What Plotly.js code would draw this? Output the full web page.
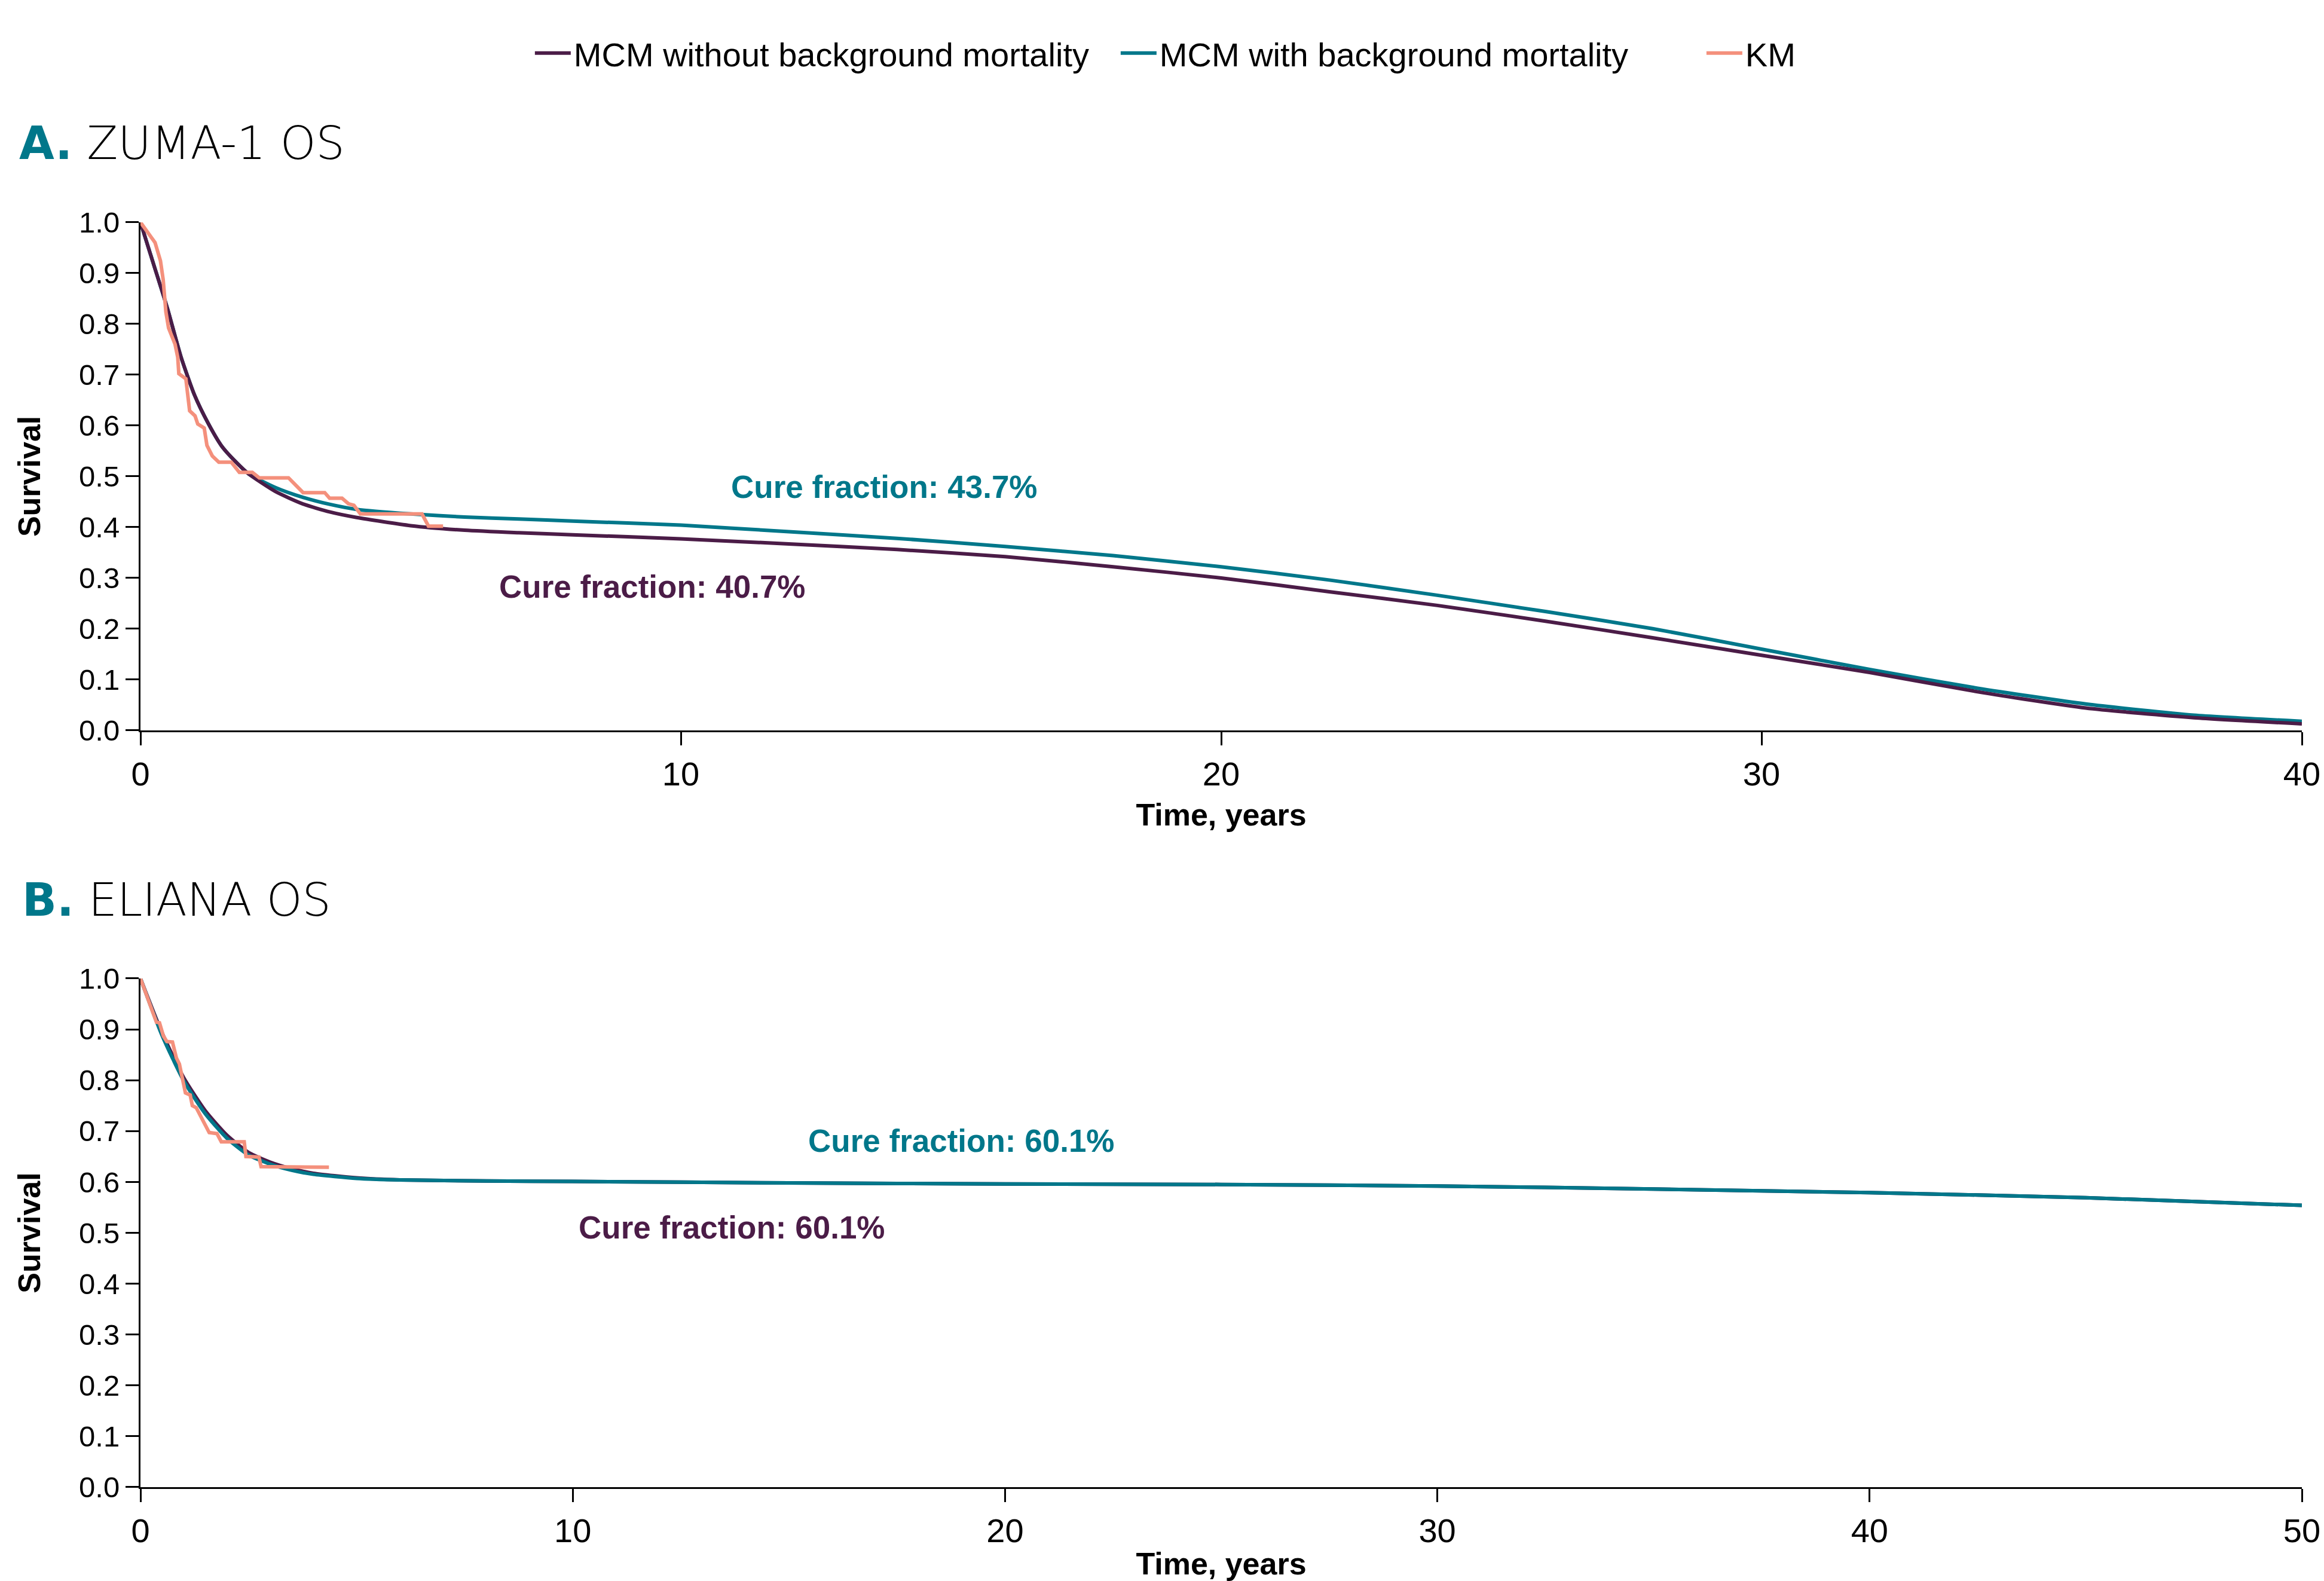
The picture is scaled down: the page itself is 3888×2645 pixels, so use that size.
<!DOCTYPE html>
<html>
<head>
<meta charset="utf-8">
<script src="https://cdn.plot.ly/plotly-3.0.1.min.js"></script>
<style>
  html, body { margin: 0; padding: 0; background: #ffffff; }
  #chart { width: 3888px; height: 2645px; }
</style>
</head>
<body>
<div id="chart"></div>
<script>
// ---------- Data ----------
// Panel A: ZUMA-1 OS
const zumaTime = [0, 0.25, 0.5, 0.75, 1, 1.25, 1.5, 1.75, 2, 2.5, 3, 3.5, 4, 5, 6, 7, 8, 10, 12, 14, 16, 18, 20, 22, 24, 26, 28, 30, 32, 34, 36, 38, 40];
const zumaNoBg = [1.0, 0.915, 0.83, 0.735, 0.66, 0.605, 0.56, 0.53, 0.505, 0.47, 0.446, 0.43, 0.419, 0.403, 0.394, 0.389, 0.385, 0.377, 0.367, 0.356, 0.342, 0.322, 0.300, 0.273, 0.246, 0.215, 0.182, 0.148, 0.114, 0.076, 0.044, 0.025, 0.013];
const zumaWithBg = [1.0, 0.915, 0.83, 0.735, 0.66, 0.605, 0.56, 0.53, 0.505, 0.478, 0.459, 0.445, 0.435, 0.426, 0.420, 0.416, 0.412, 0.404, 0.391, 0.378, 0.362, 0.344, 0.322, 0.296, 0.266, 0.234, 0.200, 0.160, 0.120, 0.083, 0.052, 0.030, 0.018];
const zumaKmTime = [0, 0.196, 0.27, 0.37, 0.42, 0.47, 0.52, 0.64, 0.69, 0.71, 0.84, 0.91, 1.01, 1.06, 1.18, 1.23, 1.33, 1.45, 1.68, 1.83, 2.07, 2.20, 2.74, 3.01, 3.41, 3.50, 3.73, 3.85, 3.95, 4.07, 5.21, 5.33, 5.60];
const zumaKm = [1.0, 0.969, 0.960, 0.924, 0.887, 0.824, 0.792, 0.760, 0.734, 0.702, 0.692, 0.629, 0.619, 0.603, 0.595, 0.561, 0.540, 0.528, 0.528, 0.508, 0.508, 0.497, 0.497, 0.468, 0.468, 0.457, 0.457, 0.446, 0.443, 0.426, 0.426, 0.402, 0.402];

// Panel B: ELIANA OS
const elianaTime = [0, 0.5, 1, 1.5, 2, 2.5, 3, 3.5, 4, 5, 6, 8, 10, 15, 20, 25, 30, 35, 40, 45, 50];
const elianaNoBg = [1.0, 0.893, 0.805, 0.740, 0.692, 0.658, 0.639, 0.626, 0.617, 0.608, 0.604, 0.602, 0.601, 0.598, 0.596, 0.595, 0.592, 0.586, 0.579, 0.569, 0.554];
const elianaWithBg = [1.0, 0.888, 0.799, 0.734, 0.686, 0.653, 0.635, 0.623, 0.615, 0.607, 0.604, 0.602, 0.601, 0.598, 0.596, 0.595, 0.592, 0.586, 0.579, 0.569, 0.554];
const elianaKmTime = [0, 0.37, 0.44, 0.53, 0.61, 0.74, 0.83, 0.90, 1.04, 1.15, 1.20, 1.29, 1.59, 1.77, 1.87, 2.40, 2.44, 2.74, 2.79, 4.36];
const elianaKm = [1.0, 0.914, 0.913, 0.887, 0.876, 0.875, 0.844, 0.832, 0.775, 0.771, 0.750, 0.746, 0.697, 0.695, 0.679, 0.679, 0.650, 0.649, 0.630, 0.629];

// Labels
const seriesNames = ["MCM without background mortality", "MCM with background mortality", "KM"];
const panelTitles = ["A.", "ZUMA-1 OS", "B.", "ELIANA OS"];
const cureLabelsA = ["Cure fraction: 43.7%", "Cure fraction: 40.7%"];
const cureLabelsB = ["Cure fraction: 60.1%", "Cure fraction: 60.1%"];
const yTickVals = [0, 0.1, 0.2, 0.3, 0.4, 0.5, 0.6, 0.7, 0.8, 0.9, 1.0];
const xTicksA = [0, 10, 20, 30, 40];
const xTicksB = [0, 10, 20, 30, 40, 50];

// ---------- Styles ----------
const PURPLE = "#4B1C47";
const TEAL = "#00778A";
const SALMON = "#F4907C";
const LW = 6;
const FONT = "Liberation Sans, Arial, sans-serif";

const traces = [
  // Panel A (teal under purple)
  {x: zumaTime, y: zumaWithBg, name: seriesNames[1], legendgroup: "teal", legendrank: 2, showlegend: true,
   mode: "lines", line: {color: TEAL, width: LW, shape: "spline", smoothing: 0.6}, xaxis: "x", yaxis: "y"},
  {x: zumaTime, y: zumaNoBg, name: seriesNames[0], legendgroup: "purple", legendrank: 1, showlegend: true,
   mode: "lines", line: {color: PURPLE, width: LW, shape: "spline", smoothing: 0.6}, xaxis: "x", yaxis: "y"},
  {x: zumaKmTime, y: zumaKm, name: seriesNames[2], legendgroup: "km", legendrank: 3, showlegend: true,
   mode: "lines", line: {color: SALMON, width: LW}, xaxis: "x", yaxis: "y"},
  // Panel B (purple under teal)
  {x: elianaTime, y: elianaNoBg, name: seriesNames[0], legendgroup: "purple", showlegend: false,
   mode: "lines", line: {color: PURPLE, width: LW, shape: "spline", smoothing: 0.6}, xaxis: "x2", yaxis: "y2"},
  {x: elianaTime, y: elianaWithBg, name: seriesNames[1], legendgroup: "teal", showlegend: false,
   mode: "lines", line: {color: TEAL, width: LW, shape: "spline", smoothing: 0.6}, xaxis: "x2", yaxis: "y2"},
  {x: elianaKmTime, y: elianaKm, name: seriesNames[2], legendgroup: "km", showlegend: false,
   mode: "lines", line: {color: SALMON, width: LW}, xaxis: "x2", yaxis: "y2"}
];

function yAxis(domain, anchor) {
  return {
    domain: domain, anchor: anchor, range: [0, 1], autorange: false,
    tickmode: "array", tickvals: yTickVals, tickformat: ".1f",
    showline: true, linecolor: "#000", linewidth: 3, mirror: false,
    ticks: "outside", ticklen: 22, tickwidth: 3, tickcolor: "#000",
    showgrid: false, zeroline: false, automargin: false,
    tickfont: {family: FONT, size: 49, color: "#000"},
    title: {text: "Survival", standoff: 48, font: {family: FONT, size: 52, color: "#000", weight: "bold"}}
  };
}
function xAxis(range, ticks, anchor, standoff) {
  return {
    anchor: anchor, domain: [0, 1], range: range, autorange: false,
    tickmode: "array", tickvals: ticks,
    showline: true, linecolor: "#000", linewidth: 3,
    ticks: "outside", ticklen: 22, tickwidth: 3, tickcolor: "#000",
    showgrid: false, zeroline: false, automargin: false,
    tickfont: {family: FONT, size: 56, color: "#000"},
    title: {text: "Time, years", standoff: standoff, font: {family: FONT, size: 52, color: "#000", weight: "bold"}}
  };
}

const layout = {
  width: 3888, height: 2645,
  paper_bgcolor: "#ffffff", plot_bgcolor: "#ffffff",
  margin: {l: 235, r: 37, t: 0, b: 0, pad: 0, autoexpand: false},
  font: {family: FONT, color: "#000"},
  showlegend: true,
  legend: {
    orientation: "h", x: 0.1811, xanchor: "left", y: 0.9664, yanchor: "middle",
    font: {family: FONT, size: 56, color: "#000"}, bgcolor: "rgba(0,0,0,0)",
    traceorder: "normal", itemwidth: 60, entrywidth: 905, entrywidthmode: "pixels"
  },
  xaxis: xAxis([0, 40], xTicksA, "y", 20),
  yaxis: yAxis([0.5380, 0.8594], "x"),
  xaxis2: xAxis([0, 50], xTicksB, "y2", 40),
  yaxis2: yAxis([0.05936, 0.3811], "x2"),
  annotations: [
    {xref: "paper", yref: "paper", x: -0.0567, y: 0.9093, xanchor: "left", yanchor: "middle", showarrow: false,
     text: "<b><span style='color:" + TEAL + "'>" + panelTitles[0] + "</span></b> " + panelTitles[1],
     font: {family: "DejaVu Sans, sans-serif", size: 76, color: "#000", weight: 200}},
    {xref: "paper", yref: "paper", x: -0.0553, y: 0.4310, xanchor: "left", yanchor: "middle", showarrow: false,
     text: "<b><span style='color:" + TEAL + "'>" + panelTitles[2] + "</span></b> " + panelTitles[3],
     font: {family: "DejaVu Sans, sans-serif", size: 76, color: "#000", weight: 200}},
    {xref: "x", yref: "y", x: 13.76, y: 0.479, xanchor: "center", yanchor: "middle", showarrow: false,
     text: "<b>" + cureLabelsA[0] + "</b>", font: {family: FONT, size: 53, color: TEAL}},
    {xref: "x", yref: "y", x: 9.47, y: 0.283, xanchor: "center", yanchor: "middle", showarrow: false,
     text: "<b>" + cureLabelsA[1] + "</b>", font: {family: FONT, size: 53, color: PURPLE}},
    {xref: "x2", yref: "y2", x: 18.99, y: 0.681, xanchor: "center", yanchor: "middle", showarrow: false,
     text: "<b>" + cureLabelsB[0] + "</b>", font: {family: FONT, size: 53, color: TEAL}},
    {xref: "x2", yref: "y2", x: 13.68, y: 0.511, xanchor: "center", yanchor: "middle", showarrow: false,
     text: "<b>" + cureLabelsB[1] + "</b>", font: {family: FONT, size: 53, color: PURPLE}}
  ]
};

Plotly.newPlot("chart", traces, layout, {displayModeBar: false, responsive: false, staticPlot: true});
</script>
</body>
</html>
